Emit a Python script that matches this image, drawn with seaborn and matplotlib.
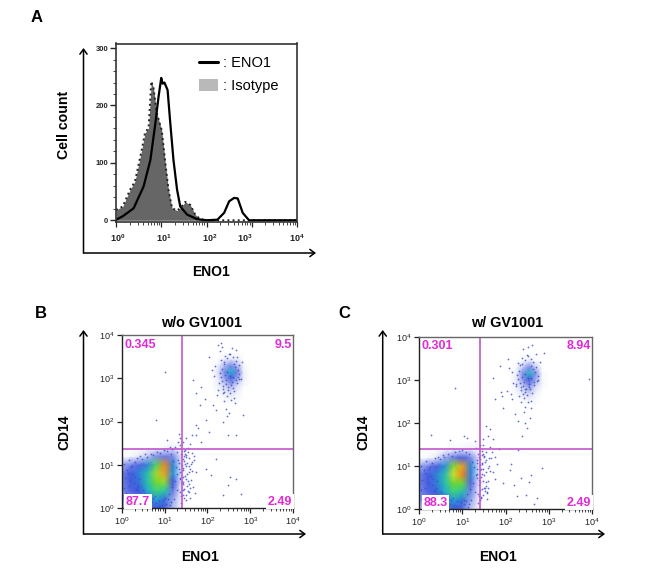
# Flow cytometry panels: ENO1 histogram and CD14 / ENO1 density plots

import numpy as np
import pandas as pd
import matplotlib
matplotlib.use("Agg")
import matplotlib.pyplot as plt
import seaborn as sns
from matplotlib.colors import LinearSegmentedColormap
from matplotlib.lines import Line2D
from matplotlib.patches import Patch
from matplotlib.transforms import ScaledTranslation

# -----------------------------
# Histogram data (log10 of ENO1, cell count)
# -----------------------------
iso_x = [0.0, 0.15, 0.31, 0.42, 0.57, 0.64, 0.72, 0.78, 0.83, 0.90, 1.01, 1.09, 1.16, 1.24, 1.35, 1.42, 1.53, 1.64, 1.75, 1.86, 2.0, 4.0]
iso_y = [18, 24, 53, 68, 123, 152, 161, 242, 230, 187, 157, 100, 53, 21, 17, 21, 32, 27, 10, 2, 0, 0]
eno_x = [0.0, 0.15, 0.39, 0.61, 0.76, 0.87, 0.94, 1.0, 1.03, 1.07, 1.14, 1.20, 1.27, 1.35, 1.42, 1.57, 1.79, 2.01, 2.24, 2.39, 2.50, 2.61, 2.69, 2.80, 2.94, 4.0]
eno_y = [1, 7, 21, 59, 105, 169, 215, 248, 238, 240, 227, 169, 105, 53, 24, 10, 2, 0, 1, 13, 33, 39, 38, 13, 0, 0]

# -----------------------------
# Density grids, level 0 (empty) to 10 (densest)
# -----------------------------
low_x = [0.0, 0.2, 0.4, 0.6, 0.8, 1.0, 1.2, 1.4, 1.6, 1.8]
low_y = [0.0, 0.2, 0.4, 0.6, 0.8, 1.0, 1.2, 1.4, 1.6]
low_b = [
    [0.7, 0.8, 1.1, 1.6, 2.2, 2.0, 0.8, 0.1, 0.0, 0.0],
    [1.1, 1.4, 1.7, 2.3, 3.2, 2.6, 1.0, 0.1, 0.0, 0.0],
    [1.3, 1.9, 2.2, 3.4, 4.8, 4.2, 1.6, 0.1, 0.0, 0.0],
    [1.4, 2.1, 2.6, 4.0, 5.8, 6.2, 2.2, 0.2, 0.0, 0.0],
    [1.4, 2.1, 2.8, 4.0, 6.3, 8.2, 3.0, 0.2, 0.0, 0.0],
    [0.9, 1.4, 1.9, 2.8, 5.0, 8.6, 2.8, 0.2, 0.0, 0.0],
    [0.0, 0.1, 0.3, 0.7, 1.2, 1.5, 1.3, 0.2, 0.0, 0.0],
    [0.0, 0.0, 0.0, 0.0, 0.0, 0.1, 0.2, 0.1, 0.0, 0.0],
    [0.0, 0.0, 0.0, 0.0, 0.0, 0.0, 0.0, 0.0, 0.0, 0.0],
]
low_c = [
    [0.7, 0.8, 1.2, 1.6, 2.2, 1.8, 0.7, 0.1, 0.0, 0.0],
    [1.1, 1.4, 1.9, 2.5, 3.2, 2.6, 1.0, 0.1, 0.0, 0.0],
    [1.3, 1.9, 2.4, 3.4, 4.8, 4.0, 1.4, 0.1, 0.0, 0.0],
    [1.4, 2.1, 2.7, 4.0, 5.8, 5.6, 1.9, 0.2, 0.0, 0.0],
    [1.4, 2.1, 2.8, 4.0, 6.8, 8.7, 2.8, 0.2, 0.0, 0.0],
    [0.9, 1.4, 2.0, 3.0, 6.0, 8.2, 2.8, 0.2, 0.0, 0.0],
    [0.0, 0.1, 0.3, 0.9, 1.5, 2.0, 1.3, 0.2, 0.0, 0.0],
    [0.0, 0.0, 0.0, 0.0, 0.1, 0.1, 0.2, 0.1, 0.0, 0.0],
    [0.0, 0.0, 0.0, 0.0, 0.0, 0.0, 0.0, 0.0, 0.0, 0.0],
]
high_x = [2.1, 2.25, 2.4, 2.55, 2.7, 2.85, 3.0]
high_y = [2.4, 2.55, 2.7, 2.85, 3.0, 3.15, 3.3, 3.45, 3.6]
high_b = [
    [0.0, 0.0, 0.0, 0.0, 0.0, 0.0, 0.0],
    [0.0, 0.0, 0.1, 0.2, 0.1, 0.0, 0.0],
    [0.0, 0.1, 0.3, 0.5, 0.2, 0.0, 0.0],
    [0.0, 0.2, 0.6, 1.0, 0.5, 0.1, 0.0],
    [0.0, 0.3, 1.0, 2.0, 1.0, 0.2, 0.0],
    [0.0, 0.4, 1.3, 3.4, 1.5, 0.2, 0.0],
    [0.0, 0.2, 0.8, 1.3, 0.8, 0.1, 0.0],
    [0.0, 0.0, 0.2, 0.3, 0.2, 0.0, 0.0],
    [0.0, 0.0, 0.0, 0.0, 0.0, 0.0, 0.0],
]
high_c = [
    [0.0, 0.0, 0.0, 0.0, 0.0, 0.0, 0.0],
    [0.0, 0.0, 0.1, 0.2, 0.1, 0.0, 0.0],
    [0.0, 0.1, 0.4, 0.6, 0.2, 0.0, 0.0],
    [0.0, 0.2, 0.6, 1.1, 0.5, 0.1, 0.0],
    [0.0, 0.3, 1.1, 2.1, 0.9, 0.1, 0.0],
    [0.0, 0.2, 1.3, 3.6, 1.2, 0.1, 0.0],
    [0.0, 0.1, 0.7, 1.3, 0.6, 0.0, 0.0],
    [0.0, 0.0, 0.1, 0.3, 0.1, 0.0, 0.0],
    [0.0, 0.0, 0.0, 0.0, 0.0, 0.0, 0.0],
]

# -----------------------------
# Scattered events (log10 ENO1, log10 CD14)
# -----------------------------
b_dots_x = [2.25, 2.05, 2.67, 1.67, 1.01, 0.81, 1.86, 1.74, 1.94, 1.82, 2.13, 2.21, 1.98, 1.74, 1.78, 1.63, 1.51, 1.59, 1.43, 1.24,
            1.05, 1.74, 1.86, 2.05, 2.36, 2.67, 2.83, 2.48, 2.21, 1.98, 2.09, 2.52, 2.48, 2.36, 2.79, 2.67, 1.63, 1.74, 1.45, 1.52,
            1.60, 1.48, 1.55, 1.66, 1.72, 1.44, 1.50, 1.58, 1.46, 1.63, 1.42, 1.54, 1.69, 1.35, 1.31, 1.37, 1.28, 1.12, 1.18, 1.34,
            2.30, 2.18, 2.35, 2.80, 2.72, 2.26, 2.40, 2.15, 2.62, 2.44, 2.32, 2.58, 2.70, 2.22, 2.50, 2.78, 2.10, 2.64, 2.46, 2.36,
            2.31, 2.42, 2.47, 2.53, 2.61, 2.66, 2.73, 2.38, 2.29, 2.35, 2.44, 2.57, 2.69, 2.75, 2.34, 2.41, 2.49, 2.63, 2.71, 2.27,
            2.37, 2.52, 2.59, 2.68, 2.33, 2.45, 2.55, 2.65, 2.74, 2.39, 2.43, 2.51, 2.60, 2.48, 2.56, 2.36, 2.62, 2.46, 2.54, 2.40]
b_dots_y = [3.77, 3.50, 3.65, 2.96, 3.14, 2.03, 2.80, 2.65, 2.53, 2.38, 2.38, 2.26, 2.03, 1.91, 1.84, 1.68, 1.61, 1.49, 1.53, 1.41,
            1.57, 1.68, 1.53, 1.76, 1.99, 1.68, 2.15, 1.68, 1.14, 0.91, 0.76, 0.72, 0.53, 0.29, 0.33, 0.68, 1.07, 0.83, 1.20, 1.05,
            0.90, 0.75, 0.62, 0.48, 0.35, 0.30, 0.18, 0.98, 1.32, 1.28, 0.55, 1.38, 1.12, 1.45, 1.52, 1.62, 1.30, 1.42, 1.36, 1.70,
            3.62, 3.28, 3.72, 3.38, 3.02, 2.72, 2.48, 3.05, 2.55, 2.30, 3.82, 3.70, 3.48, 2.62, 2.20, 2.98, 3.18, 2.42, 2.12, 2.66,
            3.42, 3.51, 3.46, 3.55, 3.49, 3.41, 3.30, 3.34, 3.12, 2.94, 2.86, 2.91, 2.88, 3.10, 3.22, 3.08, 2.80, 2.70, 3.20, 2.90,
            2.76, 2.66, 2.78, 2.95, 3.02, 2.58, 2.50, 3.26, 2.98, 3.37, 2.96, 3.57, 3.04, 2.72, 2.84, 2.83, 3.33, 3.14, 3.05, 2.68]
c_dots_x = [2.40, 2.05, 2.88, 1.70, 0.83, 3.92, 0.28, 1.90, 1.75, 2.15, 1.95, 2.22, 2.30, 2.60, 2.45, 2.50, 2.38, 1.55, 1.65, 1.60,
            1.48, 1.72, 1.42, 1.30, 1.10, 0.72, 1.05, 1.85, 2.30, 2.10, 2.35, 2.60, 2.48, 2.85, 1.95, 1.45, 1.52, 1.60, 1.68, 1.75,
            1.50, 1.58, 1.44, 1.62, 1.70, 1.46, 1.55, 1.64, 1.48, 1.42, 1.37, 1.32, 1.80, 1.76, 2.20, 2.55, 2.72, 2.26, 2.12, 2.66,
            2.08, 2.16, 2.80, 2.70, 2.62, 2.52, 2.44, 2.18, 2.32, 2.76, 2.58, 2.04, 1.92, 2.46, 2.36, 1.88, 2.24, 2.12, 2.42, 2.56,
            2.29, 2.38, 2.44, 2.51, 2.59, 2.64, 2.71, 2.34, 2.27, 2.33, 2.41, 2.55, 2.67, 2.74, 2.31, 2.39, 2.47, 2.61, 2.69, 2.25,
            2.36, 2.50, 2.57, 2.66, 2.30, 2.43, 2.53, 2.63, 2.72, 2.37, 2.42, 2.49, 2.58, 2.46, 2.54, 2.35, 2.60, 2.45, 2.52, 2.40]
c_dots_y = [3.72, 3.50, 3.63, 3.05, 2.82, 3.02, 1.72, 2.72, 2.55, 2.55, 2.35, 2.20, 2.05, 2.35, 2.00, 1.88, 1.70, 1.92, 1.85, 1.70,
            1.62, 1.62, 1.50, 1.58, 1.65, 1.60, 1.70, 1.40, 1.38, 0.90, 0.72, 0.78, 0.32, 0.95, 0.60, 1.25, 1.10, 0.95, 1.32, 0.70,
            0.50, 0.40, 0.28, 1.18, 0.85, 0.82, 0.62, 1.45, 1.48, 0.20, 1.28, 1.42, 1.05, 1.22, 0.55, 0.62, 0.25, 0.30, 1.05, 0.12,
            3.28, 3.18, 3.42, 3.60, 3.82, 3.76, 2.78, 2.92, 2.62, 3.00, 2.52, 2.75, 2.62, 2.38, 2.48, 3.32, 2.85, 2.68, 2.25, 2.12,
            3.40, 3.52, 3.47, 3.56, 3.50, 3.42, 3.30, 3.34, 3.12, 2.94, 2.86, 2.90, 2.88, 3.10, 3.22, 3.08, 2.80, 2.70, 3.18, 2.90,
            2.76, 2.66, 2.78, 2.95, 3.02, 2.58, 2.48, 3.26, 2.98, 3.37, 2.96, 3.58, 3.04, 2.72, 2.84, 2.83, 3.33, 3.14, 3.05, 2.68]

# speckle across the edges of the main population and right of the gate
b_near_x = [0.05, 0.12, 0.18, 0.24, 0.08, 0.30, 0.16, 0.36, 0.10, 0.26, 0.42, 0.20, 0.48, 0.06, 0.34, 0.14, 0.28, 0.40, 0.54, 0.22,
            0.60, 0.68, 0.74, 0.82, 0.90, 0.98, 1.06, 1.14, 1.20, 1.26, 1.30, 1.24, 1.18, 1.10, 1.28, 1.33, 1.22, 1.16, 1.32, 1.36,
            0.44, 0.52, 0.58, 0.66, 0.72, 0.80, 0.88, 0.96, 1.04, 1.12, 0.62, 0.70, 0.78, 0.86, 0.94, 1.02, 1.08, 0.50, 0.38, 0.32,
            1.43, 1.47, 1.51, 1.56, 1.44, 1.49, 1.53, 1.46, 1.58, 1.62, 1.45, 1.48, 1.52, 1.57, 1.43, 1.50, 1.55, 1.61, 1.47, 1.65,
            1.44, 1.49, 1.54, 1.59, 1.46, 1.51, 1.68, 1.56, 1.43, 1.60, 1.39, 1.36, 1.41, 1.38, 1.34, 1.40, 1.37, 1.42, 1.35, 1.39]
b_near_y = [1.02, 0.88, 1.10, 0.96, 0.70, 1.06, 0.52, 1.16, 0.34, 0.78, 1.20, 0.62, 1.14, 0.46, 0.44, 0.82, 0.58, 0.66, 1.24, 0.94,
            1.18, 1.26, 1.22, 1.30, 1.27, 1.34, 1.31, 1.25, 1.08, 0.95, 0.78, 0.62, 0.48, 0.33, 0.42, 0.90, 0.20, 0.14, 1.12, 0.66,
            0.26, 0.34, 0.16, 0.08, 0.22, 0.12, 0.05, 0.18, 0.10, 0.06, 0.30, 0.14, 0.27, 0.16, 0.08, 0.24, 0.20, 0.42, 0.50, 0.72,
            1.14, 1.02, 1.22, 0.84, 0.92, 0.68, 0.52, 0.44, 0.36, 1.02, 0.24, 1.26, 0.78, 1.16, 0.60, 0.96, 1.30, 0.64, 1.34, 0.86,
            0.72, 0.30, 0.40, 0.22, 1.08, 1.18, 1.20, 0.56, 0.42, 0.46, 0.28, 0.84, 1.00, 0.12, 1.04, 0.58, 0.38, 0.88, 0.70, 1.24]
c_near_x = [0.04, 0.11, 0.17, 0.25, 0.07, 0.31, 0.15, 0.37, 0.09, 0.27, 0.43, 0.21, 0.49, 0.05, 0.35, 0.13, 0.29, 0.41, 0.55, 0.23,
            0.58, 0.66, 0.76, 0.84, 0.92, 1.00, 1.08, 1.16, 1.22, 1.27, 1.31, 1.25, 1.19, 1.11, 1.29, 1.34, 1.21, 1.15, 1.33, 1.38,
            0.45, 0.53, 0.59, 0.67, 0.73, 0.81, 0.89, 0.97, 1.05, 1.13, 0.63, 0.71, 0.79, 0.87, 0.95, 1.03, 1.09, 0.51, 0.39, 0.33,
            1.42, 1.46, 1.50, 1.55, 1.43, 1.48, 1.52, 1.45, 1.57, 1.61, 1.44, 1.47, 1.51, 1.56, 1.42, 1.49, 1.54, 1.60, 1.46, 1.64,
            1.43, 1.48, 1.53, 1.58, 1.45, 1.50, 1.67, 1.55, 1.42, 1.59, 1.38, 1.35, 1.40, 1.37, 1.33, 1.39, 1.36, 1.41, 1.34, 1.38]
c_near_y = [1.00, 0.90, 1.12, 0.98, 0.68, 1.08, 0.50, 1.18, 0.32, 0.76, 1.22, 0.60, 1.16, 0.44, 0.42, 0.84, 0.56, 0.64, 1.26, 0.92,
            1.20, 1.28, 1.24, 1.32, 1.36, 1.38, 1.33, 1.27, 1.10, 0.97, 0.80, 0.60, 0.46, 0.35, 0.40, 0.92, 0.22, 0.12, 1.14, 0.68,
            0.24, 0.32, 0.14, 0.06, 0.20, 0.10, 0.07, 0.16, 0.12, 0.04, 0.28, 0.12, 0.25, 0.18, 0.06, 0.22, 0.18, 0.40, 0.48, 0.70,
            1.16, 1.04, 1.24, 0.86, 0.94, 0.66, 0.50, 0.46, 0.38, 1.00, 0.26, 1.28, 0.80, 1.14, 0.62, 0.94, 1.32, 0.66, 1.36, 0.88,
            0.74, 0.32, 0.42, 0.24, 1.06, 1.20, 1.18, 0.54, 0.44, 0.48, 0.30, 0.82, 1.02, 0.14, 1.06, 0.56, 0.36, 0.90, 0.72, 1.22]

# -----------------------------
# Gate labels and quadrant lines
# -----------------------------
b_gates = ["0.345", "9.5", "87.7", "2.49"]
c_gates = ["0.301", "8.94", "88.3", "2.49"]
b_cross = [1.41, 1.375]
c_cross = [1.40, 1.39]

W, H = 668, 585
FONT = "Liberation Sans"
MAGENTA = "#e22ad6"
GATE = "#c355cf"

sns.set_theme(style="white")
plt.rcParams["font.family"] = FONT
plt.rcParams["text.color"] = "black"

density_cmap = LinearSegmentedColormap.from_list(
    "flow",
    [(0.0, "#ffffff"), (0.05, "#d5d9f5"), (0.12, "#7f8ee8"), (0.22, "#3f55dc"), (0.33, "#22a8d8"),
     (0.45, "#30d090"), (0.58, "#70d830"), (0.7, "#dfe030"), (0.85, "#f09020"), (1.0, "#e03a20")],
)

fig = plt.figure(figsize=(W / 100, H / 100), dpi=100)


def add_axes(left, top, right, bottom):
    return fig.add_axes([left / W, 1 - bottom / H, (right - left) / W, (bottom - top) / H])


def fig_text(x, y, s, **kw):
    fig.text(x / W, 1 - y / H, s, ha="center", va="center", **kw)


def arrows(x, top, bottom, right):
    # the outer L-shaped axis arrows
    for end in [(x, top), (right, bottom)]:
        fig.add_artist(matplotlib.patches.FancyArrowPatch(
            (x / W, 1 - bottom / H), (end[0] / W, 1 - end[1] / H), transform=fig.transFigure,
            arrowstyle="->,head_length=3.5,head_width=2.6", lw=1.1, color="black", shrinkA=0, shrinkB=0))


def log_ticks(ax, axis, length=2.5):
    ax_obj = ax.xaxis if axis == "x" else ax.yaxis
    ax_obj.set_major_locator(matplotlib.ticker.LogLocator(base=10, numticks=6))
    ax_obj.set_minor_locator(matplotlib.ticker.LogLocator(base=10, subs=np.arange(2, 10), numticks=6))
    ax_obj.set_minor_formatter(matplotlib.ticker.NullFormatter())
    ax.tick_params(axis=axis, which="major", length=length + 1, width=0.9, labelsize=6.5, pad=2, colors="#222222", bottom=axis == "x", left=axis == "y")
    ax.tick_params(axis=axis, which="minor", length=length - 0.5, width=0.6, bottom=axis == "x", left=axis == "y")


# -----------------------------
# Panel A: histogram
# -----------------------------
ax = add_axes(116, 43.5, 297, 222)
iso_df = pd.DataFrame({"eno1": np.power(10.0, iso_x), "count": iso_y})
eno_df = pd.DataFrame({"eno1": np.power(10.0, eno_x), "count": eno_y})
ax.fill_between(iso_df["eno1"], iso_df["count"], color="#666666", lw=0)
sns.lineplot(data=iso_df, x="eno1", y="count", ax=ax, color="#222222", lw=1.4, ls=":", errorbar=None, sort=False)
sns.lineplot(data=eno_df, x="eno1", y="count", ax=ax, color="black", lw=1.6, errorbar=None, sort=False)
ax.set_xscale("log")
ax.set_xlim(1, 1e4)
ax.set_ylim(-3, 308)
ax.set_xlabel("")
ax.set_ylabel("")
log_ticks(ax, "x")
ax.tick_params(axis="x", which="major", pad=4)
ax.set_yticks([0, 100, 200, 300])
ax.set_yticks(range(0, 301, 20), minor=True)
ax.tick_params(axis="y", which="major", length=4, width=1.0, labelsize=5.5, pad=1.5, left=True)
ax.tick_params(axis="y", which="minor", length=2, width=0.6, left=True)
fig.canvas.draw()
# the tick labels in this panel sit off their ticks in the original
for lab, shift in zip(ax.get_xticklabels(), [10, 2, 3, 3, -7]):
    lab.set_transform(lab.get_transform() + ScaledTranslation(shift / 100, 0, fig.dpi_scale_trans))
for lab in ax.get_xticklabels() + ax.get_yticklabels():
    lab.set_fontweight("bold")
for sp in ax.spines.values():
    sp.set_color("#333333")
    sp.set_linewidth(1.2)
handles = [Line2D([], [], color="black", lw=2.2), Patch(facecolor="#b9b9b9", edgecolor="none")]
ax.legend(handles, [": ENO1", ": Isotype"], loc="upper right", bbox_to_anchor=(0.9, 0.93), frameon=False,
          fontsize=10.5, handlelength=1.3, handleheight=0.9, handletextpad=0.4, labelspacing=0.6, borderpad=0, borderaxespad=0)

arrows(83.5, 48, 253, 316)
fig_text(36.5, 18, "A", fontsize=12, fontweight="bold")
fig_text(64, 125, "Cell count", fontsize=10.2, fontweight="bold", rotation=90)
fig_text(211, 272, "ENO1", fontsize=10, fontweight="bold")


# -----------------------------
# Panels B, C: density plots
# -----------------------------
def dot_panel(box, low, high, dots_x, dots_y, near_x, near_y, gates, cross):
    ax = add_axes(*box)
    for xs, ys, grid in [(low_x, low_y, low), (high_x, high_y, high)]:
        ax.pcolormesh(np.power(10.0, xs), np.power(10.0, ys), np.array(grid), cmap=density_cmap,
                      vmin=0, vmax=10, shading="gouraud", rasterized=True)
    dots = pd.DataFrame({"x": np.power(10.0, dots_x + near_x), "y": np.power(10.0, dots_y + near_y)})
    sns.scatterplot(data=dots, x="x", y="y", ax=ax, s=1.6, color="#3c4cc8", linewidth=0, alpha=0.8)
    ax.set_xscale("log")
    ax.set_yscale("log")
    ax.set_xlim(1, 1e4)
    ax.set_ylim(1, 1e4)
    ax.set_xlabel("")
    ax.set_ylabel("")
    log_ticks(ax, "x")
    log_ticks(ax, "y")
    ax.tick_params(axis="y", which="minor", left=False)
    ax.axvline(10 ** cross[0], color=GATE, lw=1.2)
    ax.axhline(10 ** cross[1], color=GATE, lw=1.2)
    for sp in ax.spines.values():
        sp.set_color("#222222")
        sp.set_linewidth(1.0)
    ax.spines["top"].set_color("#666666")
    ax.spines["right"].set_color("#666666")
    box_style = dict(facecolor="white", edgecolor="none", pad=1.2)
    ax.text(0.015, 0.945, gates[0], transform=ax.transAxes, color=MAGENTA, fontsize=9, fontweight="bold", va="center", ha="left")
    ax.text(0.995, 0.945, gates[1], transform=ax.transAxes, color=MAGENTA, fontsize=9, fontweight="bold", va="center", ha="right")
    ax.text(0.025, 0.036, gates[2], transform=ax.transAxes, color=MAGENTA, fontsize=9, fontweight="bold", va="center", ha="left", bbox=box_style)
    ax.text(0.995, 0.036, gates[3], transform=ax.transAxes, color=MAGENTA, fontsize=9, fontweight="bold", va="center", ha="right", bbox=box_style)


dot_panel((121.7, 335, 293, 508), low_b, high_b, b_dots_x, b_dots_y, b_near_x, b_near_y, b_gates, b_cross)
dot_panel((419, 337, 592, 509), low_c, high_c, c_dots_x, c_dots_y, c_near_x, c_near_y, c_gates, c_cross)

arrows(83.5, 330, 534, 306)
arrows(382.7, 330, 534, 605)

fig_text(41, 313, "B", fontsize=12, fontweight="bold")
fig_text(344, 313, "C", fontsize=12, fontweight="bold")
fig_text(201.7, 323, "w/o GV1001", fontsize=10.4, fontweight="bold")
fig_text(507, 323, "w/ GV1001", fontsize=10.4, fontweight="bold")
fig_text(64, 432, "CD14", fontsize=10, fontweight="bold", rotation=90)
fig_text(363, 432, "CD14", fontsize=10, fontweight="bold", rotation=90)
fig_text(200, 557, "ENO1", fontsize=10, fontweight="bold")
fig_text(498, 557, "ENO1", fontsize=10, fontweight="bold")

fig.savefig("out.png", dpi=100)
plt.close(fig)
